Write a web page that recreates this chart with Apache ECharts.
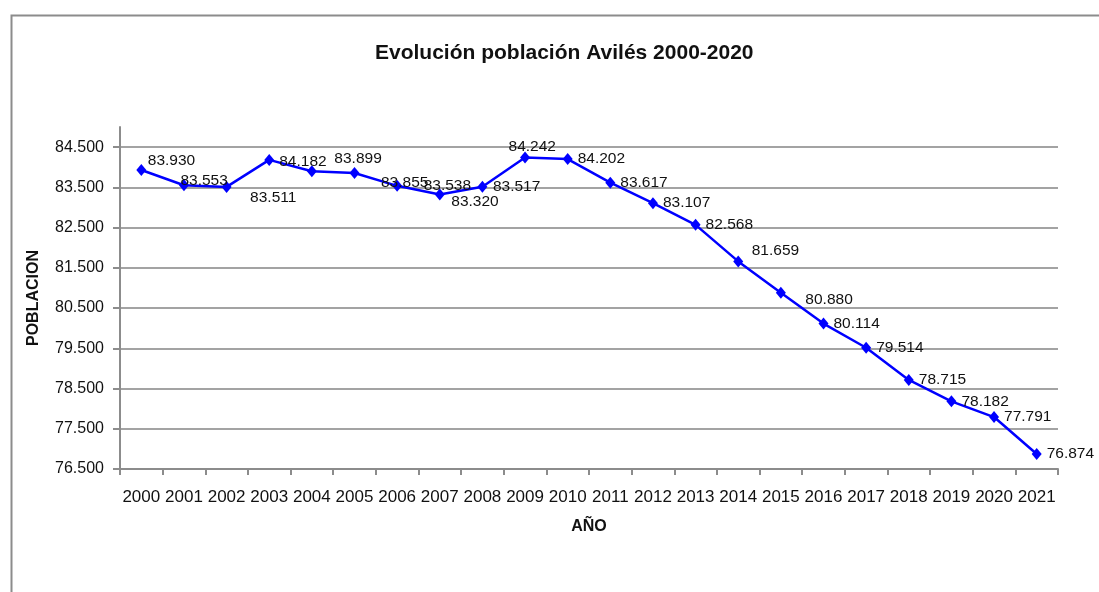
<!DOCTYPE html>
<html>
<head>
<meta charset="utf-8">
<script src="https://cdn.jsdelivr.net/npm/echarts@6/dist/echarts.min.js"></script>
<style>
html,body{margin:0;padding:0;background:#fff;}
#chart{width:1099px;height:592px;}
</style>
</head>
<body>
<div id="chart"></div>
<script>
// ---- data ----
const years = ['2000','2001','2002','2003','2004','2005','2006','2007','2008','2009','2010',
               '2011','2012','2013','2014','2015','2016','2017','2018','2019','2020','2021'];
const population = [83930, 83553, 83511, 84182, 83899, 83855, 83538, 83320, 83517, 84242, 84202,
                    83617, 83107, 82568, 81659, 80880, 80114, 79514, 78715, 78182, 77791, 76874];
const yTicks = [76500, 77500, 78500, 79500, 80500, 81500, 82500, 83500, 84500];
const titleText = 'Evolución población Avilés 2000-2020';
const xName = 'AÑO';
const yName = 'POBLACION';

// ---- layout helpers (not data) ----
const labelOffsets = {
  0: [-3.5, -9], 1: [-13.5, -5], 2: [13.5, 11], 3: [0, 2], 4: [12.5, -13],
  5: [16.5, 10], 6: [16.5, 0], 7: [1.5, 7], 8: [0.5, 0], 9: [-26.5, -11],
  14: [3.5, -11], 15: [14.5, 7]
};
function fmt(v) {
  const t = Math.floor(v / 1000), r = Math.round(v % 1000);
  return t + '.' + String(r).padStart(3, '0');
}
const FONT = "'Liberation Sans', Arial, sans-serif";

const seriesData = population.map((v, i) => {
  const o = labelOffsets[i];
  return o ? { value: v, label: { offset: o } } : { value: v };
});

const chart = echarts.init(document.getElementById('chart'), null, { renderer: 'canvas' });
chart.setOption({
  backgroundColor: '#ffffff',
  animation: false,
  title: {
    text: titleText,
    left: 370, top: 38,
    textStyle: { fontFamily: FONT, fontSize: 21, fontWeight: 'bold', color: '#111' }
  },
  graphic: [{
    type: 'rect', left: 9, top: 13, silent: true,
    shape: { x: 0, y: 0, width: 1120, height: 620 },
    style: { fill: 'none', stroke: '#8c8c8c', lineWidth: 2 }
  }],
  grid: { left: 120, right: 41, top: 127, bottom: 123 },
  xAxis: {
    type: 'category',
    data: years,
    boundaryGap: true,
    name: xName,
    nameLocation: 'middle',
    nameGap: 50,
    nameTextStyle: { fontFamily: FONT, fontSize: 16, fontWeight: 'bold', color: '#111' },
    axisLine: { lineStyle: { color: '#8c8c8c', width: 2 } },
    axisTick: { show: true, alignWithLabel: false, length: 6, lineStyle: { color: '#8c8c8c', width: 2 } },
    axisLabel: { interval: 0, margin: 20, fontFamily: FONT, fontSize: 17, color: '#111' },
    splitLine: { show: false }
  },
  yAxis: {
    type: 'value',
    min: 76500, max: 85000, interval: 1000,
    name: yName,
    nameLocation: 'middle',
    nameRotate: 90,
    nameGap: 78,
    nameTextStyle: { fontFamily: FONT, fontSize: 16, fontWeight: 'bold', color: '#111' },
    axisLine: { show: true, lineStyle: { color: '#8c8c8c', width: 2 } },
    axisTick: { show: true, length: 7, customValues: yTicks, lineStyle: { color: '#8c8c8c', width: 2 } },
    axisLabel: {
      customValues: yTicks, margin: 16,
      fontFamily: FONT, fontSize: 16, color: '#111',
      formatter: v => fmt(v)
    },
    splitLine: { show: true, showMinLine: false, lineStyle: { color: '#a3a3a3', width: 2 } }
  },
  series: [{
    type: 'line',
    data: seriesData,
    symbol: 'diamond',
    symbolSize: [10, 12],
    itemStyle: { color: '#0000ff' },
    lineStyle: { color: '#0000ff', width: 2.5 },
    label: {
      show: true, position: 'right', distance: 5,
      fontFamily: FONT, fontSize: 15.5, color: '#111',
      formatter: p => fmt(p.value)
    }
  }]
});
</script>
</body>
</html>
